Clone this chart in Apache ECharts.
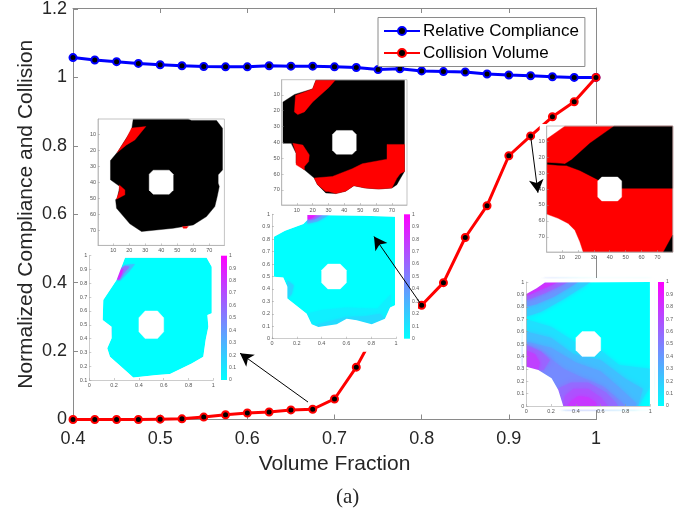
<!DOCTYPE html>
<html><head><meta charset="utf-8">
<style>html,body{margin:0;padding:0;background:#fff}#c{width:691px;height:512px}</style>
<script src="https://cdn.jsdelivr.net/npm/echarts@6/dist/echarts.min.js"></script>
</head><body><div id="c"></div>
<script>
// ---------- main chart data ----------
const volumeFractions=[0.4,0.425,0.45,0.475,0.5,0.525,0.55,0.575,0.6,0.625,0.65,0.675,0.7,0.725,0.75,0.775,0.8,0.825,0.85,0.875,0.9,0.925,0.95,0.975,1];
const relativeCompliance=[1.058,1.051,1.046,1.041,1.037,1.034,1.032,1.031,1.031,1.034,1.033,1.033,1.031,1.029,1.023,1.025,1.019,1.017,1.016,1.010,1.007,1.005,1.002,1.000,1.000];
const collisionVolume=[0.000,0.000,0.000,0.000,0.001,0.002,0.007,0.014,0.019,0.022,0.028,0.030,0.060,0.153,0.270,0.300,0.334,0.400,0.532,0.625,0.771,0.829,0.885,0.929,1.000];
const arrows=[[[0.6696,0.051],[0.5916,0.194]],[[0.8,0.334],[0.7453,0.535]],[[0.925,0.829],[0.9334,0.663]]];

// ---------- inset data: outlines in each inset's own axis units ----------
const holePixels=[[35,32.5],[45,32.5],[47.5,35],[47.5,45],[45,47.5],[35,47.5],[32.5,45],[32.5,35]];
const holeField=[[.45,.6],[.55,.6],[.6,.55],[.6,.45],[.55,.4],[.45,.4],[.4,.45],[.4,.55]];

const mapA=[
 ['#000',[[22.5,.6],[56.9,.6],[59,1.5],[74.6,1.5],[78.3,6.3],[78.3,32.3],[75.6,35.4],[75.6,40.6],[76.3,42.7],[75,49],[73.5,55.2],[68.3,61.5],[60,66.7],[47.5,68.8],[27.7,70.8],[20.4,66],[12.1,56.3],[11.5,51],[12.5,50],[14.2,42.7],[8.3,38.5],[8.3,26.5],[13,20.8],[21.5,7.3]]],
 ['#f00',[[12.5,21.5],[18.3,16.7],[23.5,13.6],[30.4,5.2],[21.5,6.2],[18.3,12.5]]],
 ['#f00',[[13.8,41.7],[17.3,44.8],[17.3,47.9],[12.1,50.6],[13.8,45.8]]],
 ['#f00',[[53.3,67.7],[56.9,67.7],[55.9,68.8],[53.8,68.8]]],
 ['#fff',holePixels]];
const mapB=[
 ['#000',[[22.1,.8],[77.9,.8],[77.9,58.3],[75.2,63],[73.1,66.7],[70,68.8],[61.7,69.4],[53.3,68.8],[46,67.3],[40.8,70.8],[34.6,72.3],[28.3,71.9],[23.1,66.7],[21,62.5],[14.8,57.3],[9.6,53.1],[9.6,46.9],[6.5,40.6],[1.3,40.6],[1.3,14.6],[8.6,9.8],[20,6.3]]],
 ['#f00',[[22.1,.8],[34.2,.8],[30.4,5.2],[20,14.6],[14.8,20.8],[10.6,22.5],[8.5,20.8],[9.2,10.4],[20,6.3]]],
 ['#f00',[[7.5,40.6],[13.8,41.7],[17.9,47.9],[17.5,52.1],[14.8,55.2],[14.8,57.3],[9.6,54.2],[9.6,46.9]]],
 ['#f00',[[77.9,41.3],[66.9,41.3],[66.9,50.6],[51.3,53.5],[45,56.6],[32.5,61.5],[21,62.5],[23.1,66.7],[28.3,71],[30,71],[34.6,72.3],[40.8,70.8],[46,67.3],[53.3,68.8],[61.7,69.4],[70,68.8],[73.1,62.7],[75.2,59.8],[77.9,58.3]]],
 ['#fff',holePixels]];
const mapC=[
 ['#f00',[[.5,8.7],[11.9,.6],[79.5,.6],[79.5,79.5],[23.4,79.5],[21.3,73.1],[18.2,65.8],[14,61.6],[7.7,58.4],[.5,55.7]]],
 ['#000',[[42.7,.6],[79.5,.6],[79.5,39.6],[46.5,39.6],[32.9,34.3],[21.3,28.4],[12.9,25.3],[7.7,25.1],[.8,24.5],[.8,23.6],[6.6,23.8],[11.9,24.3],[16.1,21.7],[27.6,11.3]]],
 ['#000',[[79.5,68.9],[79.5,79.5],[73.7,79.5]]],
 ['#fff',holePixels]];

const fieldA=[
 [0,[[.288,.986],[.946,.986],[.987,.92],[.987,.583],[.952,.57],[.96,.486],[.938,.39],[.919,.269],[.825,.22],[.65,.143],[.543,.136],[.355,.119],[.274,.184],[.167,.269],[.145,.329],[.18,.402],[.18,.486],[.108,.534],[.113,.679],[.22,.824]]],
 [.25,[[.22,.824],[.25,.908],[.288,.932],[.368,.94],[.32,.885],[.25,.82]]],
 [.55,[[.222,.824],[.25,.905],[.288,.925],[.325,.92],[.28,.875],[.245,.825]]],
 [.85,[[.225,.83],[.25,.895],[.275,.905],[.262,.87],[.24,.83]]],
 [.3,[[.175,.41],[.18,.486],[.165,.47]]]];
const fieldB=[
 [0,[[.285,.995],[.737,.989],[.992,.981],[.992,.269],[.952,.25],[.911,.161],[.804,.116],[.683,.148],[.602,.161],[.522,.116],[.374,.094],[.32,.116],[.28,.2],[.124,.323],[.124,.417],[.091,.492],[.016,.497],[.016,.82],[.105,.868],[.253,.922],[.285,.954]]],
 [.06,[[.28,.2],[.4,.23],[.6,.25],[.85,.24],[.96,.36],[.952,.25],[.911,.161],[.804,.116],[.683,.148],[.602,.161],[.522,.116],[.374,.094],[.32,.116]]],
 [.14,[[.35,.11],[.5,.15],[.6,.175],[.75,.18],[.87,.2],[.911,.161],[.804,.116],[.683,.148],[.602,.161],[.522,.116],[.374,.094]]],
 [.16,[[.124,.323],[.16,.36],[.175,.43],[.124,.47],[.124,.417]]],
 [.3,[[.285,.995],[.46,.995],[.37,.945],[.285,.925],[.285,.954]]],
 [.6,[[.285,.995],[.41,.995],[.34,.96],[.285,.954]]],
 [.9,[[.285,.995],[.36,.995],[.31,.965],[.285,.96]]]];
const fieldC=[
 [0,[[0,.903],[.083,.949],[.15,.995],[.997,1],[.997,0],[.298,0],[.258,.129],[.204,.223],[.097,.29],[0,.317]]],
 [.2,[[0,.72],[0,.903],[.083,.949],[.15,.995],[.52,1],[.3,.86],[.12,.76]]],
 [.4,[[0,.8],[0,.903],[.083,.949],[.15,.995],[.42,1],[.22,.88],[.08,.82]]],
 [.6,[[0,.85],[0,.903],[.083,.949],[.15,.995],[.34,1],[.15,.91]]],
 [.8,[[0,.885],[0,.903],[.083,.949],[.15,.995],[.26,1],[.1,.93]]],
 [.12,[[0,.7],[.2,.64],[.42,.5],[.6,.45],[.75,.33],[.997,.3],[.997,.15],[.9,0],[.298,0],[.258,.129],[.204,.223],[.097,.29],[0,.317]]],
 [.25,[[0,.6],[.2,.55],[.38,.42],[.6,.37],[.8,.22],[.94,.14],[.9,0],[.298,0],[.258,.129],[.204,.223],[.097,.29],[0,.317]]],
 [.36,[[0,.52],[.2,.47],[.4,.35],[.6,.28],[.75,.15],[.89,.02],[.88,0],[.298,0],[.258,.129],[.204,.223],[.097,.29],[0,.317]]],
 [.46,[[0,.5],[.15,.42],[.3,.3],[.45,.23],[.62,.16],[.78,.02],[.8,0],[.298,0],[.258,.129],[.204,.223],[.097,.29],[0,.317]]],
 [.6,[[0,.49],[.12,.44],[.19,.37],[.14,.29],[.097,.29],[0,.317]]],
 [.75,[[0,.45],[.07,.42],[.11,.35],[.097,.29],[0,.317]]],
 [.58,[[.25,.14],[.36,.19],[.5,.19],[.64,.11],[.72,.03],[.74,0],[.298,0]]],
 [.68,[[.31,.08],[.38,.14],[.5,.14],[.6,.07],[.66,0],[.298,0]]],
 [.78,[[.36,.04],[.42,.08],[.5,.07],[.56,.03],[.57,0],[.33,0]]]];

const pixelTicks=[10,20,30,40,50,60,70];
const fieldTicksX=[0,.2,.4,.6,.8,1];
const colorbarTicks=[0,.1,.2,.3,.4,.5,.6,.7,.8,.9,1];

// ---------- helpers ----------
const cool=v=>`rgb(${Math.round(255*v)},${Math.round(255*(1-v))},255)`;
const grey='#8a8a8a', ink='#262626', inset='#555';
const grids=[],xAxes=[],yAxes=[],series=[];

function poly(api,pts,fill){
  return {type:'polygon',shape:{points:pts.map(p=>api.coord(p))},style:{fill,stroke:fill,lineWidth:.4}};
}
function softPoly(api,pts,fill,blur){
  return {type:'polygon',shape:{points:pts.map(p=>api.coord(p))},style:{fill,shadowBlur:blur,shadowColor:fill}};
}
const area=p=>p.reduce((s,a,i)=>{const b=p[(i+1)%p.length];return s+a[0]*b[1]-b[0]*a[1];},0);
function complement(outline,yMin){
  // white cover for everything in the frame outside the outline, so soft band edges stay inside the part
  const m=.03, frame=[[-m,yMin-m],[1+m,yMin-m],[1+m,1+m],[-m,1+m]];
  const o=area(frame)*area(outline)>0?[...outline].reverse():outline;
  return [...frame,frame[0],...o,o[0],frame[0]];
}
function addCustom(gridIdx,z,build){
  series.push({type:'custom',silent:true,coordinateSystem:'cartesian2d',xAxisIndex:gridIdx,yAxisIndex:gridIdx,z,clip:false,
    data:[[0,0]],renderItem:(params,api)=>({type:'group',children:build(params.coordSys,api)})});
}
function insetAxisBase(){
  return {z:5,axisLine:{show:true,onZero:false,lineStyle:{color:'#aaa',width:.6}},
    axisTick:{show:true,inside:true,length:2,lineStyle:{color:'#999',width:.5}},
    splitLine:{show:false},axisLabel:{color:inset,fontSize:5.5,margin:2,fontFamily:'Liberation Sans'}};
}
function addMapInset(left,top,size,pad,shapes){
  const g=grids.length;
  grids.push({left,top,width:size,height:size});
  const bx=insetAxisBase(),by=insetAxisBase();
  xAxes.push({...bx,gridIndex:g,type:'value',min:.5,max:79.5,axisLabel:{...bx.axisLabel,customValues:pixelTicks},axisTick:{...bx.axisTick,customValues:pixelTicks}});
  yAxes.push({...by,gridIndex:g,type:'value',inverse:true,min:.5,max:79.5,axisLabel:{...by.axisLabel,customValues:pixelTicks},axisTick:{...by.axisTick,customValues:pixelTicks}});
  addCustom(g,3,(cs,api)=>[
    {type:'rect',shape:{x:cs.x-pad[0],y:cs.y-pad[1],width:cs.width+pad[0]+pad[2],height:cs.height+pad[1]+pad[3]},style:{fill:'#fff'}},
    ...shapes.map(s=>poly(api,s[1],s[0])),
    {type:'rect',shape:{x:cs.x,y:cs.y,width:cs.width,height:cs.height},style:{fill:'none',stroke:'#aaa',lineWidth:.7}}
  ]);
}
function addFieldInset(left,top,w,h,yMin,pad,bands,barLeft,blur){
  let g=grids.length;
  grids.push({left,top,width:w,height:h});
  const bx=insetAxisBase(),by=insetAxisBase();
  xAxes.push({...bx,gridIndex:g,type:'value',min:0,max:1,axisLabel:{...bx.axisLabel,customValues:fieldTicksX},axisTick:{...bx.axisTick,customValues:fieldTicksX}});
  yAxes.push({...by,gridIndex:g,type:'value',min:yMin,max:1,interval:.1});
  addCustom(g,3,(cs,api)=>[
    {type:'rect',shape:{x:cs.x-pad[0],y:cs.y-pad[1],width:cs.width+pad[0]+pad[2],height:cs.height+pad[1]+pad[3]},style:{fill:'#fff'}},
    ...bands.map(b=>softPoly(api,b[1],cool(b[0]),blur)),
    {type:'polygon',shape:{points:complement(bands[0][1],yMin).map(p=>api.coord(p))},style:{fill:'#fff'}},
    poly(api,holeField,'#fff')
  ]);
  g=grids.length;
  grids.push({left:barLeft,top,width:6,height:h});
  xAxes.push({gridIndex:g,type:'value',min:0,max:1,show:false});
  yAxes.push({gridIndex:g,type:'value',min:0,max:1,position:'right',z:5,axisLine:{show:false},axisTick:{show:false},splitLine:{show:false},
    axisLabel:{color:inset,fontSize:5,margin:2,fontFamily:'Liberation Sans',customValues:colorbarTicks}});
  addCustom(g,4,(cs)=>[{type:'rect',shape:{x:cs.x,y:cs.y,width:cs.width,height:cs.height},
    style:{fill:new echarts.graphic.LinearGradient(0,1,0,0,[{offset:0,color:cool(0)},{offset:1,color:cool(1)}])}}]);
}

// ---------- main grid ----------
const mainLabel={color:ink,fontSize:18,fontFamily:'Liberation Sans'};
const mainLine={show:true,onZero:false,lineStyle:{color:grey,width:1}};
const mainTick={show:true,inside:true,length:5,lineStyle:{color:grey,width:1}};
grids.push({left:73,top:8,width:523,height:411.5});
xAxes.push({gridIndex:0,type:'value',min:.4,max:1,interval:.1,position:'bottom',axisLine:mainLine,axisTick:mainTick,splitLine:{show:false},
  axisLabel:{...mainLabel,margin:11},name:'Volume Fraction',nameLocation:'middle',nameGap:34,nameMoveOverlap:false,nameTextStyle:{color:ink,fontSize:21,fontFamily:'Liberation Sans'}});
yAxes.push({gridIndex:0,type:'value',min:0,max:1.2,interval:.2,position:'left',axisLine:mainLine,axisTick:mainTick,splitLine:{show:false},
  axisLabel:{...mainLabel,margin:6},name:'Normalized Compliance and Collision',nameLocation:'middle',nameGap:36,nameMoveOverlap:false,nameTextStyle:{color:ink,fontSize:21,fontFamily:'Liberation Sans'}});

series.push({name:'Relative Compliance',type:'line',xAxisIndex:0,yAxisIndex:0,z:2,data:volumeFractions.map((x,i)=>[x,relativeCompliance[i]]),
  symbol:'circle',symbolSize:7,showAllSymbol:true,lineStyle:{color:'#0000ff',width:3},itemStyle:{color:'#000',borderColor:'#0000ff',borderWidth:2}});
series.push({name:'Collision Volume',type:'line',xAxisIndex:0,yAxisIndex:0,z:2,data:volumeFractions.map((x,i)=>[x,collisionVolume[i]]),
  symbol:'circle',symbolSize:7,showAllSymbol:true,lineStyle:{color:'#ff0000',width:3},itemStyle:{color:'#000',borderColor:'#ff0000',borderWidth:2}});
series.push({type:'line',xAxisIndex:0,yAxisIndex:0,z:6,data:[],silent:true,
  markLine:{silent:true,z:8,animation:false,symbol:['none','arrow'],symbolSize:[11,13],label:{show:false},lineStyle:{color:'#000',width:1,type:'solid'},
    data:arrows.map(a=>[{coord:a[0]},{coord:a[1]}])}});

// ---------- insets ----------
addMapInset(98,119,126.4,[18,3,4,5],mapA);
addFieldInset(89.3,255.7,124,124.3,.1,[10,5,20,8],fieldA,221,1.5);
addMapInset(281.7,79.7,125.3,[16,3,6,9],mapB);
addFieldInset(272,214.3,124,124.4,0,[14,5,22,13],fieldB,404,3);
addMapInset(546.7,126,126,[7,2,5,4],mapC);
addFieldInset(526.3,282,124,124,0,[14,4,22,4],fieldC,658,5);

// mirrored top and right axes of the main box
const boxLine={show:true,onZero:false,lineStyle:{color:grey,width:1}};
const box=grids.length;
grids.push({left:73,top:8,width:523,height:411.5});
xAxes.push({gridIndex:box,type:'value',min:.4,max:1,interval:.1,position:'top',axisLine:boxLine,axisTick:mainTick,axisLabel:{show:false},splitLine:{show:false}});
yAxes.push({gridIndex:box,type:'value',min:0,max:1.2,interval:.2,position:'right',axisLine:boxLine,axisTick:mainTick,axisLabel:{show:false},splitLine:{show:false}});

const chart=echarts.init(document.getElementById('c'),null,{renderer:'canvas'});
chart.setOption({
  animation:false,backgroundColor:'#fff',
  title:{text:'(a)',left:336,top:487,padding:0,textStyle:{fontFamily:'Liberation Serif',fontWeight:'normal',fontSize:21,color:ink}},
  legend:{show:true,data:['Relative Compliance','Collision Volume'],orient:'vertical',left:378,top:17.5,z:9,padding:[3,6,3,5],itemGap:1,itemWidth:36,itemHeight:10,
    backgroundColor:'#fff',borderColor:grey,borderWidth:1,borderRadius:0,selectedMode:false,textStyle:{color:'#000',fontSize:17,lineHeight:21,fontFamily:'Liberation Sans',padding:[0,0,0,-2]}},
  grid:grids,xAxis:xAxes,yAxis:yAxes,series
});
</script></body></html>
